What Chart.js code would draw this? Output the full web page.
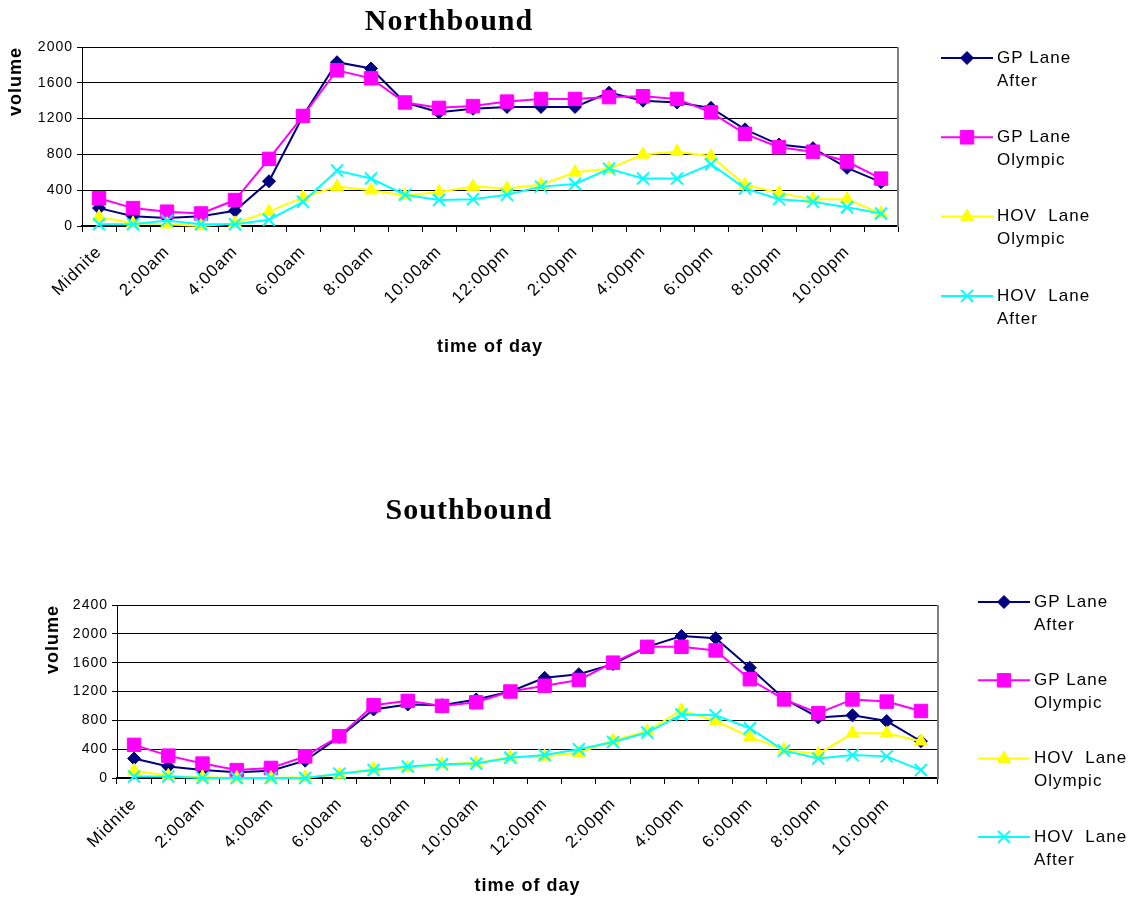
<!DOCTYPE html>
<html>
<head>
<meta charset="utf-8">
<script src="https://cdn.jsdelivr.net/npm/chart.js@4.4.0/dist/chart.umd.min.js"></script>
<style>
  html, body { margin: 0; padding: 0; background: #fff; }
  .box { position: absolute; left: 0; width: 1128px; }
  #north { top: 0; height: 372px; }
  #south { top: 480px; height: 421px; }
</style>
</head>
<body>
<div class="box" id="north"><canvas id="northChart"></canvas></div>
<div class="box" id="south"><canvas id="southChart"></canvas></div>
<script>
// one category per hour, labels shown every 2 hours
const hours = ['0:00','1:00','2:00','3:00','4:00','5:00','6:00','7:00','8:00','9:00','10:00','11:00',
               '12:00','13:00','14:00','15:00','16:00','17:00','18:00','19:00','20:00','21:00','22:00','23:00'];
const tickLabels = ['Midnite','2:00am','4:00am','6:00am','8:00am','10:00am',
                    '12:00pm','2:00pm','4:00pm','6:00pm','8:00pm','10:00pm'];

const seriesNames = [['GP Lane', 'After'], ['GP Lane', 'Olympic'], ['HOV  Lane', 'Olympic'], ['HOV  Lane', 'After']];

// Northbound volumes
const nbGpAfter   = [200,110,90,110,170,500,1230,1830,1760,1380,1270,1310,1330,1330,1330,1490,1400,1380,1320,1080,910,870,650,490];
const nbGpOlympic = [310,200,160,140,290,750,1230,1740,1650,1380,1320,1340,1390,1420,1420,1440,1450,1420,1270,1030,880,830,720,530];
const nbHovOlympic = [100,30,20,0,30,160,320,440,400,340,380,440,420,460,600,640,800,830,780,460,370,300,300,140];
const nbHovAfter  = [20,20,60,20,20,70,270,620,530,350,290,300,350,440,470,640,530,530,690,420,300,270,210,140];

// Southbound volumes
const sbGpAfter   = [270,160,110,80,100,240,570,950,1020,1010,1090,1200,1390,1440,1580,1820,1970,1940,1530,1100,840,870,790,510];
const sbGpOlympic = [460,310,200,110,140,300,580,1010,1070,1000,1050,1200,1280,1360,1600,1820,1820,1770,1370,1090,900,1090,1060,930];
const sbHovOlympic = [100,30,10,0,0,10,50,130,140,190,210,290,300,350,520,650,940,790,570,390,330,620,620,510];
const sbHovAfter  = [20,20,0,0,0,0,60,110,160,190,200,280,320,400,500,630,880,870,690,380,270,320,300,110];

const sansFont = 'Arial, "Liberation Sans", sans-serif';
const serifFont = '"Times New Roman", "Liberation Serif", serif';

const seriesStyles = [
    { color: '#000080', point: 'rectRot', radius: 6.5, width: 1 },
    { color: '#ff00ff', point: 'rect', radius: 9.5, width: 1 },
    { color: '#ffff00', point: 'triangle', radius: 7.5, width: 1 },
    { color: '#00ffff', point: 'crossRot', radius: 8.5, width: 2 },
];

function makeDatasets(series) {
    return series.map((values, i) => {
        const s = seriesStyles[i];
        return {
            label: seriesNames[i].join(' '),
            legendLines: seriesNames[i],
            data: values,
            borderColor: s.color,
            backgroundColor: s.color,
            borderWidth: 2,
            tension: 0,
            pointStyle: s.point,
            pointRadius: s.radius,
            pointHoverRadius: s.radius,
            pointBackgroundColor: s.color,
            pointBorderColor: s.color,
            pointBorderWidth: s.width,
            order: 4 - i,   // later series drawn on top, like the original
            clip: false,
        };
    });
}

// line + marker + two-line label, drawn to the right of the plot
const sideLegend = {
    id: 'sideLegend',
    afterDraw(chart, args, opts) {
        const ctx = chart.ctx;
        const area = chart.chartArea;
        const x0 = area.right + opts.dx;
        chart.data.datasets.forEach((ds, i) => {
            const y = area.top + opts.dy + i * opts.gap;
            ctx.save();
            ctx.strokeStyle = ds.borderColor;
            ctx.lineWidth = 2;
            ctx.beginPath();
            ctx.moveTo(x0, y);
            ctx.lineTo(x0 + 52, y);
            ctx.stroke();
            ctx.fillStyle = ds.pointBackgroundColor;
            ctx.strokeStyle = ds.pointBorderColor;
            ctx.lineWidth = ds.pointBorderWidth;
            Chart.helpers.drawPoint(ctx, {
                pointStyle: ds.pointStyle,
                radius: ds.pointRadius,
                borderWidth: ds.pointBorderWidth,
                rotation: 0
            }, x0 + 26, y);
            ctx.fillStyle = '#000';
            ctx.font = '17px ' + sansFont;
            ctx.textBaseline = 'middle';
            ctx.textAlign = 'left';
            ds.legendLines.forEach((t, j) => ctx.fillText(t, x0 + 56, y + j * 23));
            ctx.restore();
        });
    }
};

// grey right edge of the plot area
const plotFrame = {
    id: 'plotFrame',
    beforeDatasetsDraw(chart) {
        const { ctx, chartArea: a } = chart;
        ctx.save();
        ctx.strokeStyle = '#808080';
        ctx.lineWidth = 2;
        ctx.beginPath();
        ctx.moveTo(a.right, a.top);
        ctx.lineTo(a.right, a.bottom + 1);
        ctx.stroke();
        ctx.restore();
    }
};

const wideText = {
    id: 'wideText',
    beforeDraw(chart) { chart.ctx.letterSpacing = '1px'; }
};

function makeChart(canvasId, cfg) {
    return new Chart(document.getElementById(canvasId), {
        type: 'line',
        data: {
            labels: hours,
            datasets: makeDatasets(cfg.series)
        },
        plugins: [wideText, plotFrame, sideLegend],
        options: {
            responsive: true,
            maintainAspectRatio: false,
            animation: false,
            events: [],
            layout: { padding: { left: 0, right: cfg.rightPad, top: 0, bottom: 0 } },
            plugins: {
                legend: { display: false },
                tooltip: { enabled: false },
                title: {
                    display: true,
                    text: cfg.title,
                    color: '#000',
                    font: { family: serifFont, size: 30, weight: 'bold' },
                    padding: cfg.titlePad
                },
                sideLegend: cfg.legend
            },
            scales: {
                x: {
                    offset: true,
                    ticks: {
                        autoSkip: false,
                        maxRotation: 45,
                        minRotation: 45,
                        color: '#000',
                        font: { family: sansFont, size: 17 },
                        padding: 10,
                        callback: (v, i) => (i % 2 === 0 ? tickLabels[i / 2] : '')
                    },
                    grid: { offset: true, drawOnChartArea: false, color: '#000', tickLength: 6 },
                    border: { color: '#000', width: 2 },
                    title: {
                        display: true,
                        text: 'time of day',
                        color: '#000',
                        font: { family: sansFont, size: 18, weight: 'bold' },
                        padding: { top: 0, bottom: cfg.xTitlePad }
                    },
                    afterFit(scale) { scale.height = cfg.xHeight; }
                },
                y: {
                    min: 0,
                    max: cfg.yMax,
                    ticks: {
                        stepSize: 400,
                        color: '#000',
                        font: { family: sansFont, size: 14 },
                        padding: 4,
                        callback: (v) => String(v)
                    },
                    grid: { color: '#000', lineWidth: 1, tickLength: 5 },
                    border: { color: '#000', width: 1 },
                    title: {
                        display: true,
                        text: 'volume',
                        align: 'end',
                        color: '#000',
                        font: { family: sansFont, size: 18, weight: 'bold' },
                        padding: { top: cfg.yTitlePad, bottom: 0 }
                    },
                    afterFit(scale) { scale.width = cfg.yWidth; }
                }
            }
        }
    });
}

makeChart('northChart', {
    title: 'Northbound',
    series: [nbGpAfter, nbGpOlympic, nbHovOlympic, nbHovAfter],
    yMax: 2000,
    yWidth: 82,
    yTitlePad: 5,
    xHeight: 146,
    xTitlePad: 14,
    rightPad: 230,
    titlePad: { top: 4, bottom: 7 },
    legend: { dx: 43, dy: 11, gap: 79.3 }
});

makeChart('southChart', {
    title: 'Southbound',
    series: [sbGpAfter, sbGpOlympic, sbHovOlympic, sbHovAfter],
    yMax: 2400,
    yWidth: 117,
    yTitlePad: 42,
    xHeight: 123,
    xTitlePad: 4,
    rightPad: 190,
    titlePad: { top: 13, bottom: 76 },
    legend: { dx: 40, dy: -3, gap: 78.3 }
});
</script>
</body>
</html>
